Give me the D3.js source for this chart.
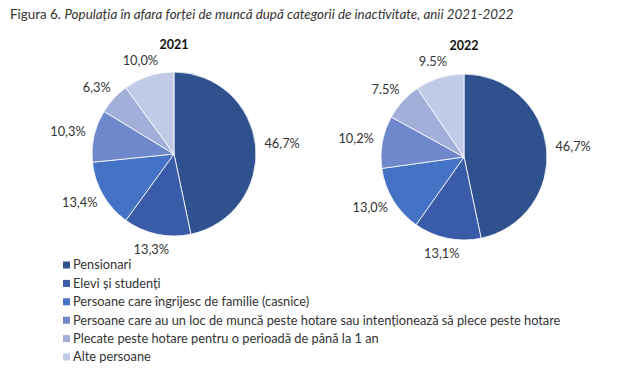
<!DOCTYPE html>
<html><head><meta charset="utf-8">
<script src="https://cdn.jsdelivr.net/npm/d3@7"></script>
<style>
html,body{margin:0;padding:0;background:#fff;}
svg{display:block;font-family:Lato, "Open Sans", sans-serif;}
</style></head><body>
<svg id="c" width="626" height="368"></svg>
<script>
const categories = [
  "Pensionari",
  "Elevi și studenți",
  "Persoane care îngrijesc de familie (casnice)",
  "Persoane care au un loc de muncă peste hotare sau intenționează să plece peste hotare",
  "Plecate peste hotare pentru o perioadă de până la 1 an",
  "Alte persoane"
];
const years = ["2021", "2022"];
const values2021 = [46.7, 13.3, 13.4, 10.3, 6.3, 10.0];
const values2022 = [46.7, 13.1, 13.0, 10.2, 7.5, 9.5];
const labels2021 = ["46,7%", "13,3%", "13,4%", "10,3%", "6,3%", "10,0%"];
const labels2022 = ["46,7%", "13,1%", "13,0%", "10,2%", "7.5%", "9.5%"];
const colors = ["#2F528F", "#3A5CA8", "#4472C4", "#6F88CB", "#A1AFD9", "#C1CAE6"];

const svg = d3.select("#c");
const textCol = "#333";

// Title
const title = svg.append("text").attr("x", 10).attr("y", 19)
  .attr("font-size", 13.4).attr("fill", textCol);
title.append("tspan").text("Figura 6. ");
title.append("tspan").attr("font-style", "italic")
  .text("Populația în afara forței de muncă după categorii de inactivitate, anii 2021-2022");

const pies = [
  {year: years[0], values: values2021, labels: labels2021, cx: 174, cy: 154, r: 82, ty: 49},
  {year: years[1], values: values2022, labels: labels2022, cx: 464, cy: 157, r: 83, ty: 50}
];

const pie = d3.pie().sort(null).value(d => d);

pies.forEach(p => {
  const g = svg.append("g").attr("transform", `translate(${p.cx},${p.cy})`);
  const arc = d3.arc().innerRadius(0).outerRadius(p.r);
  const arcs = pie(p.values);
  g.selectAll("path").data(arcs).join("path")
    .attr("d", arc)
    .attr("fill", (d, i) => colors[i])
    .attr("stroke", "#fff").attr("stroke-width", 0.8);

  svg.append("text").attr("x", p.cx).attr("y", p.ty)
    .attr("text-anchor", "middle").attr("font-weight", "bold")
    .attr("font-size", 12.5).attr("fill", "#111").text(p.year);

  const labelR = p.r + 9;
  arcs.forEach((d, i) => {
    const a = (d.startAngle + d.endAngle) / 2;
    const s = Math.sin(a), c = -Math.cos(a);
    const t = g.append("text").attr("font-size", 12.8).attr("fill", textCol)
      .attr("text-anchor", "middle").text(p.labels[i]);
    const bb = t.node().getBBox();
    const x = labelR * s + s * bb.width / 2;
    const y = labelR * c + c * 7 + 4;
    t.attr("x", x).attr("y", y);
  });
});

// Legend
const lg = svg.append("g").attr("transform", "translate(63,265)");
categories.forEach((cat, i) => {
  const row = lg.append("g").attr("transform", `translate(0,${i * 18.4})`);
  row.append("rect").attr("x", 0).attr("y", -3.5).attr("width", 7).attr("height", 7)
    .attr("fill", colors[i]);
  row.append("text").attr("x", 10).attr("y", 4.4).attr("font-size", 12.8)
    .attr("fill", textCol).text(cat);
});
</script>
</body></html>
